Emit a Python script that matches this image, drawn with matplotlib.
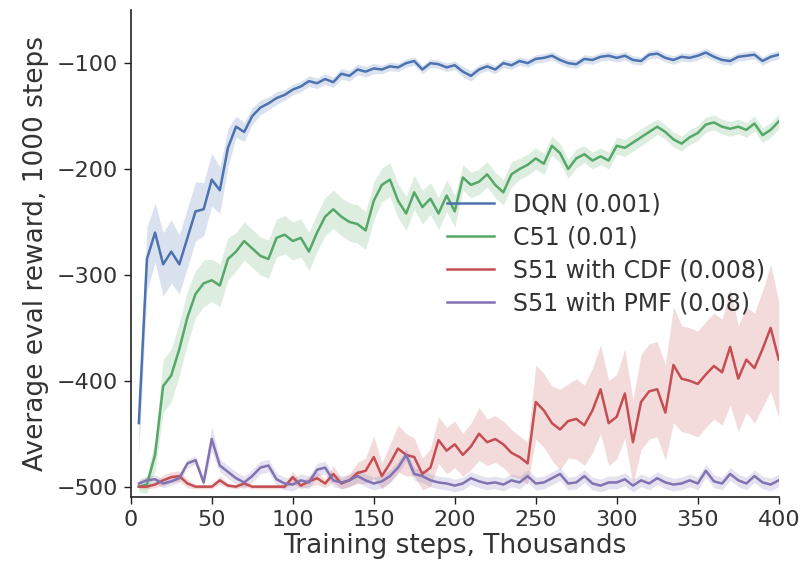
import numpy as np
import matplotlib
matplotlib.use("Agg")
import matplotlib.pyplot as plt

steps = list(range(5, 401, 5))

dqn = [-440, -285, -260, -290, -278, -290, -265, -240, -238, -210,
       -220, -180, -160, -165, -150, -142, -138, -133, -130, -125,
       -122, -117, -119, -115, -118, -110, -112, -106, -108, -105,
       -106, -103, -104, -100, -98, -106, -100, -101, -104, -102,
       -108, -112, -106, -103, -106, -100, -102, -98, -100, -96,
       -95, -93, -97, -100, -101, -96, -97, -94, -93, -95,
       -93, -97, -98, -92, -91, -95, -97, -94, -95, -93,
       -90, -94, -97, -98, -94, -93, -92, -98, -94, -92]
dqn_err = [30, 30, 28, 30, 30, 28, 28, 28, 25, 25,
           22, 18, 10, 9, 8, 7, 6, 6, 5, 5,
           5, 5, 5, 5, 5, 5, 5, 5, 5, 5,
           4, 4, 4, 4, 4, 4, 4, 4, 4, 4,
           5, 5, 4, 4, 4, 4, 4, 4, 4, 4,
           4, 4, 4, 4, 4, 4, 4, 4, 4, 4,
           4, 4, 4, 4, 4, 4, 4, 4, 4, 4,
           4, 4, 4, 4, 4, 4, 4, 4, 4, 4]

c51 = [-500, -498, -470, -405, -395, -370, -340, -318, -308, -305,
       -310, -285, -278, -268, -275, -282, -285, -265, -262, -268,
       -265, -278, -260, -245, -238, -245, -250, -252, -258, -230,
       -215, -210, -230, -242, -222, -236, -228, -242, -225, -240,
       -208, -215, -212, -205, -215, -222, -205, -200, -196, -190,
       -195, -178, -185, -200, -190, -186, -192, -188, -192, -178,
       -180, -175, -170, -165, -160, -165, -172, -176, -170, -166,
       -158, -156, -160, -162, -160, -163, -157, -168, -163, -155]
c51_err = [5, 8, 15, 25, 25, 25, 25, 22, 22, 20,
           20, 20, 18, 18, 18, 18, 18, 18, 18, 18,
           18, 18, 18, 18, 18, 18, 18, 18, 18, 18,
           16, 16, 16, 16, 16, 16, 15, 15, 15, 15,
           12, 12, 12, 12, 12, 12, 12, 10, 10, 10,
           10, 9, 9, 9, 9, 8, 8, 8, 8, 8,
           8, 8, 8, 8, 7, 7, 7, 7, 7, 7,
           7, 7, 7, 7, 7, 7, 7, 7, 7, 7]

s51_cdf = [-500, -500, -498, -494, -491, -490, -497, -500, -500, -500,
           -494, -499, -500, -497, -500, -500, -500, -500, -500, -491,
           -499, -495, -492, -497, -488, -497, -494, -487, -485, -472,
           -490, -478, -464, -470, -472, -488, -482, -456, -466, -460,
           -470, -462, -450, -458, -455, -460, -468, -472, -478, -420,
           -428, -440, -446, -438, -436, -442, -428, -408, -440, -434,
           -412, -458, -420, -410, -408, -430, -385, -398, -400, -403,
           -394, -386, -392, -368, -398, -380, -388, -370, -350, -380]
s51_cdf_err = [2, 2, 3, 5, 5, 5, 4, 2, 2, 2,
               4, 2, 2, 3, 2, 2, 2, 2, 2, 6,
               3, 5, 6, 4, 8, 5, 6, 10, 12, 20,
               12, 18, 22, 20, 18, 15, 18, 22, 22, 22,
               20, 22, 25, 22, 22, 22, 22, 20, 20, 35,
               35, 35, 38, 35, 38, 38, 40, 42, 40, 40,
               42, 40, 45, 45, 45, 45, 55, 50, 50, 50,
               50, 50, 50, 55, 50, 50, 52, 55, 60, 55]

s51_pmf = [-497, -494, -493, -497, -495, -492, -478, -475, -496, -455,
           -480, -486, -492, -496, -490, -482, -480, -493, -497, -498,
           -494, -496, -484, -482, -494, -496, -494, -490, -494, -497,
           -495, -490, -482, -470, -488, -490, -494, -496, -497, -499,
           -497, -492, -495, -497, -496, -498, -494, -496, -490, -497,
           -496, -492, -488, -497, -496, -490, -497, -499, -496, -496,
           -493, -499, -494, -497, -492, -496, -498, -497, -494, -497,
           -485, -495, -497, -488, -494, -497, -490, -496, -498, -494]
s51_pmf_err = [4] * 9 + [12] + [6] * 70

labels = ["DQN (0.001)", "C51 (0.01)", "S51 with CDF (0.008)", "S51 with PMF (0.08)"]
colors = ["#4C72B0", "#55A868", "#C44E52", "#8172B2"]

plt.rcParams["font.family"] = "DejaVu Sans"
fig = plt.figure(figsize=(8.07, 5.67), dpi=100)
ax = fig.add_axes([0.162, 0.123, 0.803, 0.859])

x = np.array(steps)
series = [(dqn, dqn_err), (c51, c51_err), (s51_cdf, s51_cdf_err), (s51_pmf, s51_pmf_err)]
for (m, e), lab, c in zip(series, labels, colors):
    m = np.array(m, dtype=float)
    e = np.array(e, dtype=float)
    ax.fill_between(x, m - e, m + e, color=c, alpha=0.2, linewidth=0)
    ax.plot(x, m, color=c, lw=1.8, label=lab)

ax.set_xlim(0, 400)
ax.set_ylim(-510, -50)
ax.set_xticks(range(0, 401, 50))
ax.set_yticks([-500, -400, -300, -200, -100])
ax.set_yticklabels(["\u2212500", "\u2212400", "\u2212300", "\u2212200", "\u2212100"])

for s in ["top", "right"]:
    ax.spines[s].set_visible(False)
for s in ["left", "bottom"]:
    ax.spines[s].set_color("#222222")
    ax.spines[s].set_linewidth(1.2)
ax.tick_params(direction="out", length=5, width=1, colors="#222222",
               labelcolor="#333333", labelsize=16, pad=4)

ax.set_xlabel("Training steps, Thousands", fontsize=19, color="#333333", labelpad=2)
ax.set_ylabel("Average eval reward, 1000 steps", fontsize=19, color="#333333", labelpad=6)

ax.legend(loc="upper left", bbox_to_anchor=(0.488, 0.626), frameon=False,
          fontsize=17, labelcolor="#333333", handlelength=2.0,
          handletextpad=0.8, labelspacing=0.38, borderpad=0, borderaxespad=0)

fig.savefig("out.png", dpi=100)
